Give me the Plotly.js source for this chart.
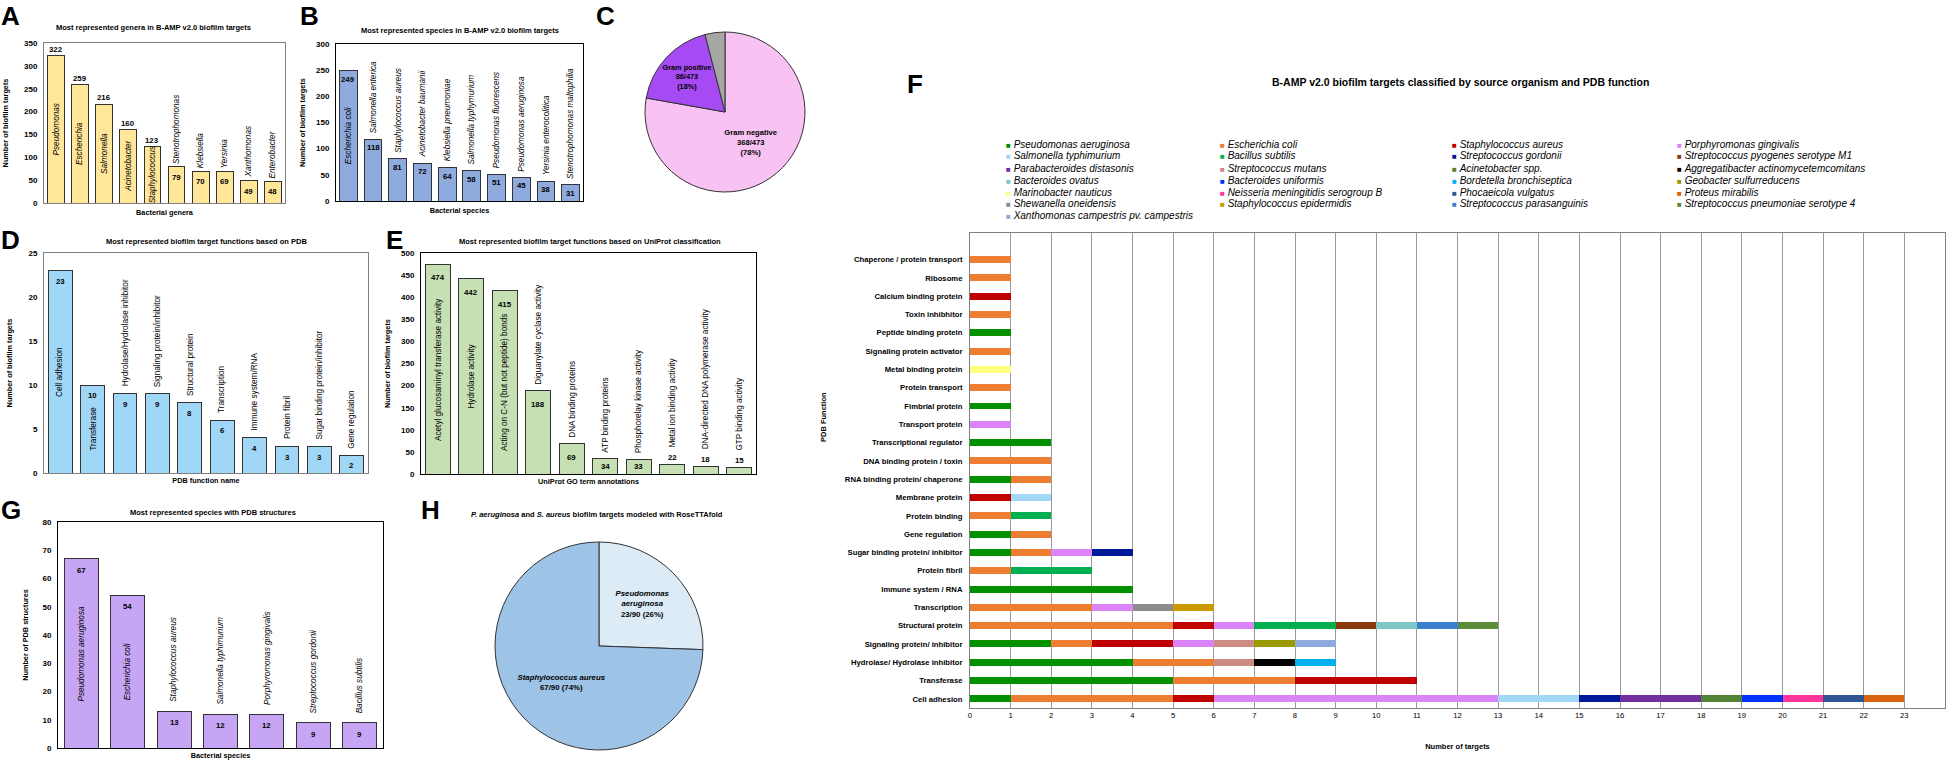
<!DOCTYPE html>
<html><head><meta charset="utf-8">
<script src="https://cdn.plot.ly/plotly-3.0.1.min.js"></script>
<style>html,body{margin:0;padding:0;background:#fff;}#chart{width:1949px;height:762px;}</style>
</head><body><div id="chart"></div>
<script>
// ---------- DATA ----------
// A: genera
const genera = ['Pseudomonas','Escherichia','Salmonella','Acinetobacter','Staphylococcus','Stenotrophomonas','Klebsiella','Yersinia','Xanthomonas','Enterobacter'];
const generaCounts = [322,259,216,160,123,79,70,69,49,48];
// B: species
const species = ['Escherichia coli','Salmonella enterica','Staphylococcus aureus','Acinetobacter baumanii','Klebsiella pneumoniae','Salmonella typhymurium','Pseudomonas fluorescens','Pseudomonas aeruginosa','Yersinia enterocolitica','Stenotrophomonas maltophilia'];
const speciesCounts = [249,118,81,72,64,58,51,45,38,31];
// C: Gram classification
const gramLabels = ['Gram negative','Gram positive','Other'];
const gramCounts = [368,86,19];
// D: PDB functions
const pdbFunctions = ['Cell adhesion','Transferase','Hydrolase/Hydrolase inhibitor','Signaling protein/inhibitor','Structural protein','Transcription','Immune system/RNA','Protein fibril','Sugar binding protein/inhibitor','Gene regulation'];
const pdbCounts = [23,10,9,9,8,6,4,3,3,2];
// E: UniProt GO terms
const goTerms = ['Acetyl glucosaminyl transferase activity','Hydrolase activity','Acting on C-N (but not peptide) bonds','Diguanylate cyclase activity','DNA binding proteins','ATP binding proteins','Phosphorelay kinase activity','Metal ion binding activity','DNA-directed DNA polymerase activity','GTP binding activity'];
const goCounts = [474,442,415,188,69,34,33,22,18,15];
// G: species with PDB structures
const pdbSpecies = ['Pseudomonas aeruginosa','Escherichia coli','Staphylococcus aureus','Salmonella typhimurium','Porphyromonas gingivalis','Streptococcus gordonii','Bacillus subtilis'];
const pdbSpeciesCounts = [67,54,13,12,12,9,9];
// H: RoseTTAfold models
const modeledLabels = ['Pseudomonas aeruginosa','Staphylococcus aureus'];
const modeledCounts = [23,67];
// F: functions (top to bottom) and organisms
const fFunctions = ['Chaperone / protein transport','Ribosome','Calcium binding protein','Toxin inhibhitor','Peptide binding protein','Signaling protein activator','Metal binding protein','Protein transport','Fimbrial protein','Transport protein','Transcriptional regulator','DNA binding protein / toxin','RNA binding protein/ chaperone','Membrane protein','Protein binding','Gene regulation','Sugar binding protein/ inhibitor','Protein fibril','Immune system / RNA','Transcription','Structural protein','Signaling protein/ inhibitor','Hydrolase/ Hydrolase inhibitor','Transferase','Cell adhesion'];
const fOrganisms = ['Pseudomonas aeruginosa','Escherichia coli','Staphylococcus aureus','Porphyromonas gingivalis','Salmonella typhimurium','Bacillus subtilis','Streptococcus gordonii','Streptococcus pyogenes serotype M1','Parabacteroides distasonis','Streptococcus mutans','Acinetobacter spp.','Aggregatibacter actinomycetemcomitans','Bacteroides ovatus','Bacteroides uniformis','Bordetella bronchiseptica','Geobacter sulfurreducens','Marinobacter nauticus','Neisseria meningitidis serogroup B','Phocaeicola vulgatus','Proteus mirabilis','Shewanella oneidensis','Staphylococcus epidermidis','Streptococcus parasanguinis','Streptococcus pneumoniae serotype 4','Xanthomonas campestris pv. campestris'];
// rows = organisms (order above), columns = fFunctions (order above)
const fCounts = [
  [0,0,0,0,1,0,0,0,1,0,2,0,1,0,0,1,1,0,4,0,0,2,4,5,1],
  [1,1,0,1,0,1,0,1,0,0,0,2,1,0,1,1,1,1,0,3,5,1,2,3,4],
  [0,0,1,0,0,0,0,0,0,0,0,0,0,1,0,0,0,0,0,0,1,2,0,3,1],
  [0,0,0,0,0,0,0,0,0,1,0,0,0,0,0,0,1,0,0,1,1,1,0,0,7],
  [0,0,0,0,0,0,0,0,0,0,0,0,0,1,0,0,0,0,0,0,0,0,0,0,2],
  [0,0,0,0,0,0,0,0,0,0,0,0,0,0,1,0,0,2,0,0,2,0,0,0,0],
  [0,0,0,0,0,0,0,0,0,0,0,0,0,0,0,0,1,0,0,0,0,0,0,0,1],
  [0,0,0,0,0,0,0,0,0,0,0,0,0,0,0,0,0,0,0,0,1,0,0,0,0],
  [0,0,0,0,0,0,0,0,0,0,0,0,0,0,0,0,0,0,0,0,0,0,0,0,2],
  [0,0,0,0,0,0,0,0,0,0,0,0,0,0,0,0,0,0,0,0,0,1,1,0,0],
  [0,0,0,0,0,0,0,0,0,0,0,0,0,0,0,0,0,0,0,0,0,0,0,0,1],
  [0,0,0,0,0,0,0,0,0,0,0,0,0,0,0,0,0,0,0,0,0,0,1,0,0],
  [0,0,0,0,0,0,0,0,0,0,0,0,0,0,0,0,0,0,0,0,1,0,0,0,0],
  [0,0,0,0,0,0,0,0,0,0,0,0,0,0,0,0,0,0,0,0,0,0,0,0,1],
  [0,0,0,0,0,0,0,0,0,0,0,0,0,0,0,0,0,0,0,0,0,0,1,0,0],
  [0,0,0,0,0,0,0,0,0,0,0,0,0,0,0,0,0,0,0,0,0,1,0,0,0],
  [0,0,0,0,0,0,1,0,0,0,0,0,0,0,0,0,0,0,0,0,0,0,0,0,0],
  [0,0,0,0,0,0,0,0,0,0,0,0,0,0,0,0,0,0,0,0,0,0,0,0,1],
  [0,0,0,0,0,0,0,0,0,0,0,0,0,0,0,0,0,0,0,0,0,0,0,0,1],
  [0,0,0,0,0,0,0,0,0,0,0,0,0,0,0,0,0,0,0,0,0,0,0,0,1],
  [0,0,0,0,0,0,0,0,0,0,0,0,0,0,0,0,0,0,0,1,0,0,0,0,0],
  [0,0,0,0,0,0,0,0,0,0,0,0,0,0,0,0,0,0,0,1,0,0,0,0,0],
  [0,0,0,0,0,0,0,0,0,0,0,0,0,0,0,0,0,0,0,0,1,0,0,0,0],
  [0,0,0,0,0,0,0,0,0,0,0,0,0,0,0,0,0,0,0,0,1,0,0,0,0],
  [0,0,0,0,0,0,0,0,0,0,0,0,0,0,0,0,0,0,0,0,0,1,0,0,0]
];
// ---------- STYLE ----------
const fColors = ['#009000','#ED7D31','#C00000','#DA84F8','#A2D8F6','#00B050','#00189A','#8B3A0E','#7030A0','#CC8C84','#548235','#000000','#7FC7C7','#0033FF','#00B0F0','#999900','#FFFF80','#FF3399','#2F5597','#D9640F','#8C8C8C','#CC9900','#3A80CC','#5A8C3A','#8EA9DB'];
const FONT = 'Liberation Sans, Arial, Helvetica, sans-serif';
const W = 1949, H = 762;
const px = v => v / W;
const py = v => 1 - v / H;
const dx = (a, b) => [px(a), px(b)];
const dy = (top, bottom) => [py(bottom), py(top)];

const data = [];
const annotations = [];
const NAME_SIZE = 8.2, VAL_SIZE = 7.8;

function barPanel(k, cats, vals, color, width, o) {
  const xa = 'x' + (k === 1 ? '' : k), ya = 'y' + (k === 1 ? '' : k);
  data.push({type:'bar', x:cats, y:vals, xaxis:xa, yaxis:ya, width:width,
    marker:{color:color, line:{color:'#333333', width:1}}, showlegend:false, hoverinfo:'x+y'});
  cats.forEach((c, i) => {
    const v = vals[i];
    const vAbove = o.valueAbove.indexOf(i) >= 0;
    const inShift = (o.vInAt && o.vInAt[i] !== undefined) ? o.vInAt[i] : o.vIn;
    annotations.push({xref:xa, yref:ya, x:c, y:v, text:'<b>' + v + '</b>', showarrow:false,
      yanchor: vAbove ? 'bottom' : 'top', yshift: vAbove ? 0 : inShift,
      font:{family:FONT, size:VAL_SIZE, color:'#000'}});
    const t = o.italic ? '<i>' + c + '</i>' : c;
    if (i < o.nameInside) {
      annotations.push({xref:xa, yref:ya, x:c, y:v / 2, text:t, textangle:-90, showarrow:false,
        xanchor:'center', yanchor:'middle', font:{family:FONT, size:NAME_SIZE, color:'#000'}});
    } else {
      annotations.push({xref:xa, yref:ya, x:c, y:v, text:t, textangle:-90, showarrow:false,
        xanchor:'center', yanchor:'bottom', yshift:(vAbove ? 11 : 0) + o.nameUp,
        font:{family:FONT, size:NAME_SIZE, color:'#000'}});
    }
  });
}

barPanel(1, genera, generaCounts, '#FFE699', 0.7, {valueAbove:[0,1,2,3,4], nameInside:5, italic:true, vIn:-4, nameUp:1});
barPanel(2, species, speciesCounts, '#8FAADC', 0.72, {valueAbove:[], nameInside:1, italic:true, vIn:-2, nameUp:4});
barPanel(3, pdbFunctions, pdbCounts, '#A0D6F6', 0.74, {valueAbove:[], nameInside:2, italic:false, vIn:-4, nameUp:5});
barPanel(4, goTerms, goCounts, '#C6E0B4', 0.74, {valueAbove:[7,8,9], nameInside:3, italic:false, vIn:-7, vInAt:{5:-1, 6:-1}, nameUp:4});
barPanel(5, pdbSpecies, pdbSpeciesCounts, '#C6A5F4', 0.73, {valueAbove:[], nameInside:2, italic:true, vIn:-5, nameUp:7});

// F stacked bars
fOrganisms.forEach((name, j) => {
  data.push({type:'bar', orientation:'h', y:fFunctions, x:fCounts[j], xaxis:'x6', yaxis:'y6', width:0.38,
    name:name, marker:{color:fColors[j], line:{width:0}}, showlegend:false, hoverinfo:'name+x'});
});

// Pies
const sumArr = a => a.reduce((s, v) => s + v, 0);
const gramTotal = sumArr(gramCounts);
const gramText = gramLabels.map((l, i) => i < 2 ? '<b>' + l + '<br>' + gramCounts[i] + '/' + gramTotal + '<br>(' + Math.round(100 * gramCounts[i] / gramTotal) + '%)</b>' : '');
data.push({type:'pie', labels:gramLabels, values:gramCounts, text:gramText, textinfo:'text', textposition:'inside',
  insidetextorientation:'horizontal', sort:false, direction:'clockwise', rotation:0,
  marker:{colors:['#F8C3F3','#A64BF4','#A6A6A6'], line:{color:'#333333', width:1}},
  domain:{x:dx(645, 805), y:dy(32, 192)}, textfont:{family:FONT, size:7.6, color:'#000'},
  hoverinfo:'label+value+percent', showlegend:false});
const modTotal = sumArr(modeledCounts);
const modText = modeledLabels.map((l, i) => '<b><i>' + (i === 0 ? l.replace(' ', '<br>') : l) + '</i><br>' + modeledCounts[i] + '/' + modTotal + ' (' + Math.round(100 * modeledCounts[i] / modTotal) + '%)</b>');
data.push({type:'pie', labels:modeledLabels, values:modeledCounts, text:modText, textinfo:'text', textposition:'inside',
  insidetextorientation:'horizontal', sort:false, direction:'clockwise', rotation:0,
  marker:{colors:['#DDEBF7','#9DC3E6'], line:{color:'#333333', width:1}},
  domain:{x:dx(495, 703), y:dy(542, 750)}, textfont:{family:FONT, size:7.8, color:'#000'},
  hoverinfo:'label+value+percent', showlegend:false});

// ---------- AXES ----------
function catX(dom, anchor, cats, lc, title, standoff) {
  return {domain:dom, anchor:anchor, type:'category', categoryorder:'array', categoryarray:cats,
    showticklabels:false, ticks:'', showline:true, mirror:true, linecolor:lc, linewidth:1,
    showgrid:false, zeroline:false, fixedrange:true,
    title:{text:title, font:{family:FONT, size:7.3, weight:'bold', color:'#000'}, standoff:standoff}};
}
function valY(dom, anchor, range, dtick, lc, title, standoff) {
  return {domain:dom, anchor:anchor, range:range, dtick:dtick, showline:true, mirror:true, linecolor:lc, linewidth:1,
    showgrid:false, zeroline:false, ticks:'', ticklabelstandoff:4, fixedrange:true,
    tickfont:{family:FONT, size:8, weight:'bold', color:'#000'},
    title:{text:title, font:{family:FONT, size:7.3, weight:'bold', color:'#000'}, standoff:standoff}};
}

const ann = (x, y, text, size, extra) => Object.assign({xref:'paper', yref:'paper', x:px(x), y:py(y), text:text,
  showarrow:false, xanchor:'center', yanchor:'middle', font:{family:FONT, size:size, color:'#000'}}, extra || {});

// panel letters
[['A',10,16],['B',309,16],['C',605,16],['D',10,240],['E',394,240],['F',915,84],['G',11,510],['H',430,510]]
  .forEach(l => annotations.push(ann(l[1], l[2], '<b>' + l[0] + '</b>', 26)));
// panel titles
annotations.push(ann(153, 28, '<b>Most represented genera in B-AMP v2.0 biofilm targets</b>', 7.5));
annotations.push(ann(460, 30, '<b>Most represented species in B-AMP v2.0 biofilm targets</b>', 7.5));
annotations.push(ann(206, 242, '<b>Most represented biofilm target functions based on PDB</b>', 7.5));
annotations.push(ann(590, 242, '<b>Most represented biofilm target functions based on UniProt classification</b>', 7.5));
annotations.push(ann(213, 512, '<b>Most represented species with PDB structures</b>', 7.5));
annotations.push(ann(597, 514, '<b><i>P. aeruginosa</i> and <i>S. aureus</i> biofilm targets modeled with RoseTTAfold</b>', 7.5));
annotations.push(ann(1460, 82, '<b>B-AMP v2.0 biofilm targets classified by source organism and PDB function</b>', 10.5));
// F y title
annotations.push(ann(823, 417, '<b>PDB Function</b>', 7.5, {textangle:-90}));
// F legend (4 columns)
const legCols = [1004, 1218, 1450, 1675];
fOrganisms.forEach((name, j) => {
  const col = j % 4, row = Math.floor(j / 4);
  annotations.push(ann(legCols[col], 144 + row * 12,
    '<span style="color:' + fColors[j] + ';font-size:8px">■</span> <i>' + name + '</i>', 10, {xanchor:'left'}));
});

const layout = {
  width:W, height:H, margin:{l:0, r:0, t:0, b:0}, paper_bgcolor:'#fff', plot_bgcolor:'rgba(0,0,0,0)',
  showlegend:false, barmode:'stack', font:{family:FONT, color:'#000'},
  xaxis: catX(dx(44,285), 'y', genera, '#7f7f7f', 'Bacterial genera', 6),
  yaxis: valY(dy(43,203), 'x', [0,350], 50, '#7f7f7f', 'Number of biofilm targets', 14),
  xaxis2: catX(dx(336,583), 'y2', species, '#000', 'Bacterial species', 6),
  yaxis2: valY(dy(44,201), 'x2', [0,300], 50, '#000', 'Number of biofilm targets', 9),
  xaxis3: catX(dx(44,368), 'y3', pdbFunctions, '#7f7f7f', 'PDB function name', 4),
  yaxis3: valY(dy(253,473), 'x3', [0,25], 5, '#7f7f7f', 'Number of biofilm targets', 14),
  xaxis4: catX(dx(421,756), 'y4', goTerms, '#000', 'UniProt GO term annotations', 4),
  yaxis4: valY(dy(253,474), 'x4', [0,500], 50, '#000', 'Number of biofilm targets', 9),
  xaxis5: catX(dx(58,383), 'y5', pdbSpecies, '#000', 'Bacterial species', 4),
  yaxis5: valY(dy(522,748), 'x5', [0,80], 10, '#000', 'Number of PDB structures', 12),
  xaxis6: {domain:dx(970,1945), anchor:'y6', range:[0,24], dtick:1, tick0:0, showgrid:true, gridcolor:'#9a9a9a', gridwidth:1,
    showline:true, mirror:true, linecolor:'#808080', linewidth:1, zeroline:false, ticks:'', fixedrange:true,
    tickfont:{family:FONT, size:7.7, color:'#000'},
    title:{text:'Number of targets', font:{family:FONT, size:7.5, weight:'bold', color:'#000'}, standoff:24}},
  yaxis6: {domain:dy(233,708), anchor:'x6', type:'category', categoryorder:'array', categoryarray:fFunctions.slice().reverse(),
    range:[-0.5, 25.45], showgrid:false, showline:true, mirror:true, linecolor:'#808080', linewidth:1, zeroline:false,
    ticks:'', ticklabelstandoff:5, fixedrange:true, tickfont:{family:FONT, size:7.7, weight:'bold', color:'#000'}},
  annotations: annotations
};

Plotly.newPlot('chart', data, layout, {displayModeBar:false, staticPlot:true});
</script></body></html>
